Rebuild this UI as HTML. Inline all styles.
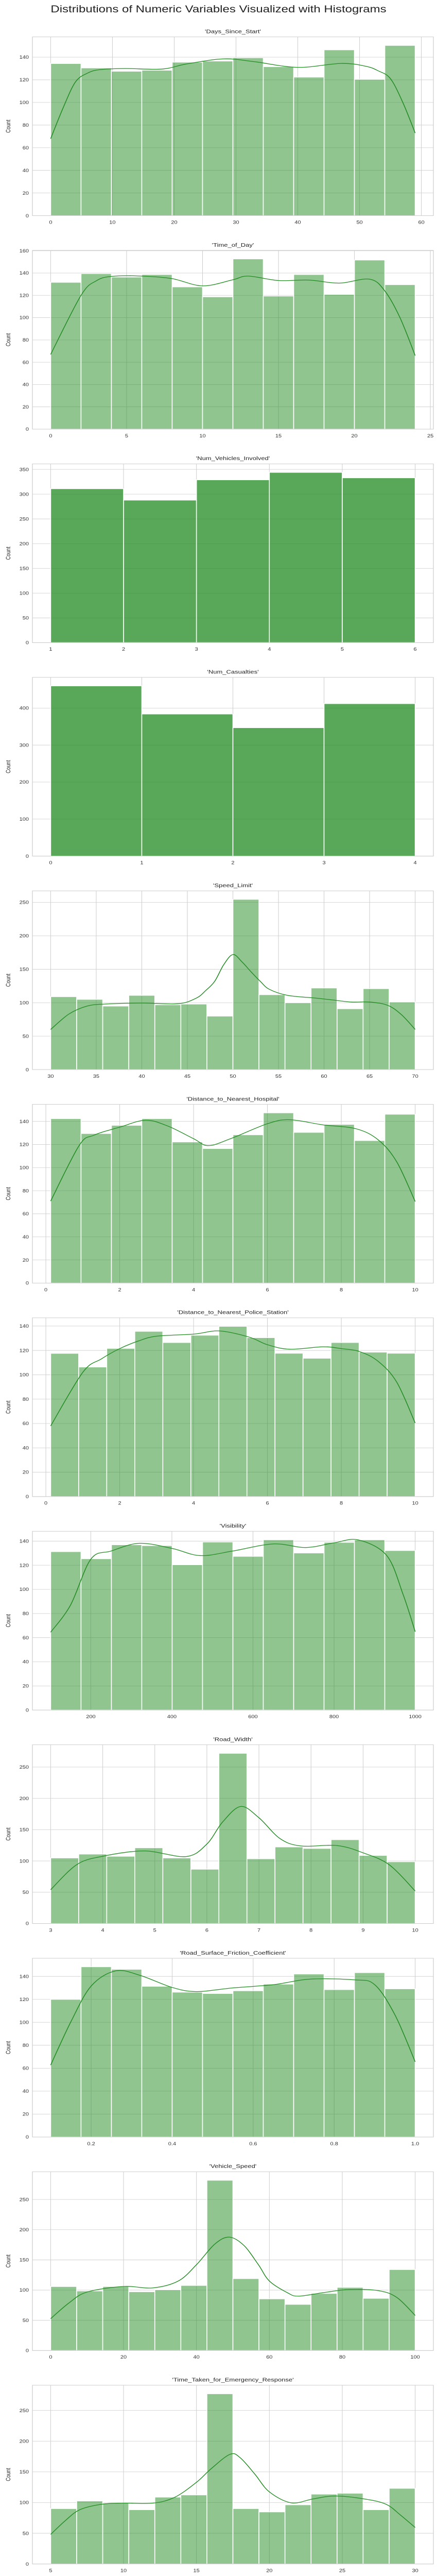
<!DOCTYPE html>
<html><head><meta charset="utf-8">
<style>
html,body{margin:0;padding:0;background:#fff;overflow:hidden;width:100%;height:100%;}
body{font-family:"Liberation Sans",Arial,sans-serif;}
svg{display:block;width:100vw;height:100vh;}
svg text{font-family:"Liberation Sans",Arial,sans-serif;}
</style></head>
<body>
<svg id="fig" viewBox="0 0 849 6283" preserveAspectRatio="none" xmlns="http://www.w3.org/2000/svg">
<text x="424.5" y="30" text-anchor="middle" font-size="24" fill="#222">Distributions of Numeric Variables Visualized with Histograms</text>
</svg>
<script>
// ---- data ----
const names = ["Days_Since_Start","Time_of_Day","Num_Vehicles_Involved","Num_Casualties","Speed_Limit","Distance_to_Nearest_Hospital","Distance_to_Nearest_Police_Station","Visibility","Road_Width","Road_Surface_Friction_Coefficient","Vehicle_Speed","Time_Taken_for_Emergency_Response"];
const dataMin = [0,0,1,0,30,0.13,0.13,101,3,0.1,0,5];
const dataMax = [59,24,6,4,70,10,10,1000,10,1.0,100,30];
const counts1 = [134.4,130.5,127.6,128.5,135.6,136.6,139.5,131.6,122.4,146.5,120.4,150.4];
const counts2 = [131.7,139.5,136.4,138.7,127.6,118.7,152.7,119.4,138.7,120.9,151.7,129.6];
const counts3 = [311,288,329,344,333];
const counts4 = [460,384,347,412];
const counts5 = [109,105,95,111,97,98,80,254.5,112,100,122,91,121,101];
const counts6 = [142.4,129.5,136.6,142.4,122.2,116.5,128.4,147.4,130.5,137.4,123.4,146.2];
const counts7 = [117.6,106.4,121.7,135.7,126.5,132.5,139.8,130.5,117.7,113.6,126.5,118.6,117.7];
const counts8 = [131.3,125.4,137,136.3,120.4,139.3,127.4,141.1,130.2,139,141.1,132.2];
const counts9 = [104.8,111,107.5,121,104.8,86.8,272,103.5,122.4,120,134,108.8,98.7];
const counts10 = [120,148.4,146.2,131.4,126.3,125.1,127.5,133.3,142.1,128.5,143.3,129.2];
const counts11 = [105.9,98.6,105.9,97.3,100.5,107.7,281.8,119,85.5,76.4,94.5,104.5,86.4,134];
const counts12 = [90.2,102.7,99.1,88.4,108.9,112.5,277.2,90.2,84.8,96.4,113.8,115.2,88.4,123.2];
// KDE curves: [x, y] pairs
const kde1 = [[0,68],[2,95],[4,118],[6,126],[8,129],[12,130],[18,129.5],[22,134],[28,138.5],[33,136],[40,131],[47,134.5],[51,132],[53,128],[55,121],[57,100],[59,73]];
const kde2 = [[0,67],[2,120],[3,133],[4,137],[6,137.3],[8,135],[10,128.5],[12,134],[13,137.3],[15,133.3],[17,133.7],[19,131],[21,134.5],[22,124],[23,100],[24,66]];
const kde5 = [[30,60],[32,83],[34,95],[36,98],[40,99.5],[44,98.5],[46,107],[47,118],[48,132],[49,157],[50,172],[51,161],[52,146],[53,132],[54,120],[56,111],[59,107],[61,104],[63,101],[65,101],[67,96],[68.5,82],[70,60]];
const kde6 = [[0.13,71],[0.9,119],[1.3,128],[2,135],[2.7,141],[3.3,136],[4,125],[4.4,119],[5,125],[6,138],[6.6,141.4],[7.5,137],[8.4,133.6],[9,124],[9.5,105],[10,70.6]];
const kde7 = [[0.13,58],[1,102],[1.5,113],[2,121.5],[2.5,127.7],[3,131.7],[4,133.4],[4.7,136],[5.5,131],[6,124.7],[6.6,121],[7.5,123],[8,121.5],[8.5,119],[9,111],[9.5,94],[10,60.4]];
const kde8 = [[101,64.5],[150,87],[200,125],[250,131.8],[320,138.2],[400,134],[470,128],[550,131.8],[650,137.7],[730,134.7],[800,138.6],[860,141],[930,128],[970,96],[1000,65]];
const kde9 = [[3,54],[3.5,94],[4,107.5],[4.8,116],[5.6,107],[6,127],[6.3,162],[6.65,187],[7,169],[7.4,136],[7.8,124],[8.5,124.6],[9,113],[9.5,94],[10,52]];
const kde10 = [[0.1,62.7],[0.15,100.5],[0.2,131.6],[0.26,144.8],[0.32,141],[0.4,130.4],[0.46,126.8],[0.55,130],[0.65,132.8],[0.74,137.6],[0.85,137],[0.9,132.8],[0.95,106.5],[1.0,65.6]];
const kde11 = [[0,52.7],[5,78.6],[10,96.8],[20,106],[28,103.6],[35,115],[40,142],[45,176],[49,187.7],[53,174],[57,142],[60,115],[65,95.5],[68,90],[75,96],[82,101],[90,99],[95,87.7],[100,58]];
const kde12 = [[5,48.2],[6,70.5],[7,88.4],[8.5,97.3],[10,99],[12,99],[13.5,108.5],[15,133],[16,155],[17.3,178.6],[18,173],[19,146.4],[20,117.4],[21.5,99.6],[23,106],[24.5,110.7],[26.5,106],[28,97.3],[29,79.5],[30,59.4]];
const xTicks = [[0,10,20,30,40,50,60],[0,5,10,15,20,25],[1,2,3,4,5,6],[0,1,2,3,4],[30,35,40,45,50,55,60,65,70],[0,2,4,6,8,10],[0,2,4,6,8,10],[200,400,600,800,1000],[3,4,5,6,7,8,9,10],[0.2,0.4,0.6,0.8,1.0],[0,20,40,60,80,100],[5,10,15,20,25,30]];
const xTickLabels = [null,null,null,null,null,null,null,null,null,["0.2","0.4","0.6","0.8","1.0"],null,null];
const yTicks = [[0,20,40,60,80,100,120,140],[0,20,40,60,80,100,120,140,160],[0,50,100,150,200,250,300,350],[0,100,200,300,400],[0,50,100,150,200,250],[0,20,40,60,80,100,120,140],[0,20,40,60,80,100,120,140],[0,20,40,60,80,100,120,140],[0,50,100,150,200,250],[0,20,40,60,80,100,120,140],[0,50,100,150,200,250],[0,50,100,150,200,250]];
const allCounts = [counts1,counts2,counts3,counts4,counts5,counts6,counts7,counts8,counts9,counts10,counts11,counts12];
const allKde = [kde1,kde2,null,null,kde5,kde6,kde7,kde8,kde9,kde10,kde11,kde12];

// ---- drawing ----
const NS = "http://www.w3.org/2000/svg";
const fig = document.getElementById("fig");
const L = 63, R = 842, H = 436, TOP0 = 90, PERIOD = 520.7;
function mk(tag, attrs, parent){const e=document.createElementNS(NS,tag);for(const k in attrs)e.setAttribute(k,attrs[k]);parent.appendChild(e);return e;}

for (let p = 0; p < names.length; p++) {
  const top = TOP0 + PERIOD * p, bot = top + H;
  const counts = allCounts[p], kde = allKde[p];
  const lo = dataMin[p], hi = dataMax[p], span = hi - lo;
  const x0 = lo - span * 0.05, x1 = hi + span * 0.05;
  const ymax = Math.max(...counts) * 1.05;
  const sx = v => L + (v - x0) / (x1 - x0) * (R - L);
  const sy = v => bot - v / ymax * H;
  const g = mk("g", {}, fig);
  
  
  const t = mk("text", {x: (L + R) / 2, y: top - 9, "text-anchor": "middle", "font-size": 13, fill: "#222"}, g);
  t.textContent = "'" + names[p] + "'";
  
  
  yTicks[p].forEach(v => {
    const ln = mk("line", {x1: L, x2: R, y1: sy(v), y2: sy(v), stroke: "#cccccc", "stroke-width": 1}, g);
    
    
    const tx = mk("text", {x: L - 7, y: sy(v) + 4, "text-anchor": "end", "font-size": 11, fill: "#333"}, g);
    tx.textContent = String(v);
    
    
  });
  xTicks[p].forEach((v, i) => {
    const ln = mk("line", {x1: sx(v), x2: sx(v), y1: top, y2: bot, stroke: "#cccccc", "stroke-width": 1}, g);
    
    
    const tx = mk("text", {x: sx(v), y: bot + 20, "text-anchor": "middle", "font-size": 11, fill: "#333"}, g);
    tx.textContent = xTickLabels[p] ? xTickLabels[p][i] : String(v);
    
    
  });
  const n = counts.length, w = span / n;
  const op = kde ? 0.5 : 0.75;
  counts.forEach((c, i) => {
    const a = sx(lo + i * w), b = sx(lo + (i + 1) * w);
    const r = mk("rect", {x: a, y: sy(c), width: b - a, height: bot - sy(c), fill: "rgba(34,139,34," + op + ")", stroke: "#fff", "stroke-width": 1.6}, g);
    
    
  });
  if (kde) {
    const pts = kde.map(q => [sx(q[0]), sy(q[1])]);
    let d = "M" + pts[0][0] + "," + pts[0][1];
    for (let i = 0; i < pts.length - 1; i++) {
      const p0 = pts[Math.max(0, i - 1)], p1 = pts[i], p2 = pts[i + 1], p3 = pts[Math.min(pts.length - 1, i + 2)];
      const c1x = p1[0] + (p2[0] - p0[0]) / 6, c1y = p1[1] + (p2[1] - p0[1]) / 6;
      const c2x = p2[0] - (p3[0] - p1[0]) / 6, c2y = p2[1] - (p3[1] - p1[1]) / 6;
      d += " C" + c1x + "," + c1y + " " + c2x + "," + c2y + " " + p2[0] + "," + p2[1];
    }
    const path = mk("path", {d: d, fill: "none", stroke: "#228B22", "stroke-width": 1.6}, g);
    
    
  }
  const fr = mk("rect", {x: L, y: top, width: R - L, height: H, fill: "none", stroke: "#cccccc", "stroke-width": 1.2}, g);
  
  
  const yl = mk("text", {x: 0, y: 0, "text-anchor": "middle", "font-size": 12, fill: "#222", transform: "translate(20," + (top + H / 2) + ") rotate(-90)"}, g);
  yl.textContent = "Count";
  
  
}
</script>
</body></html>
